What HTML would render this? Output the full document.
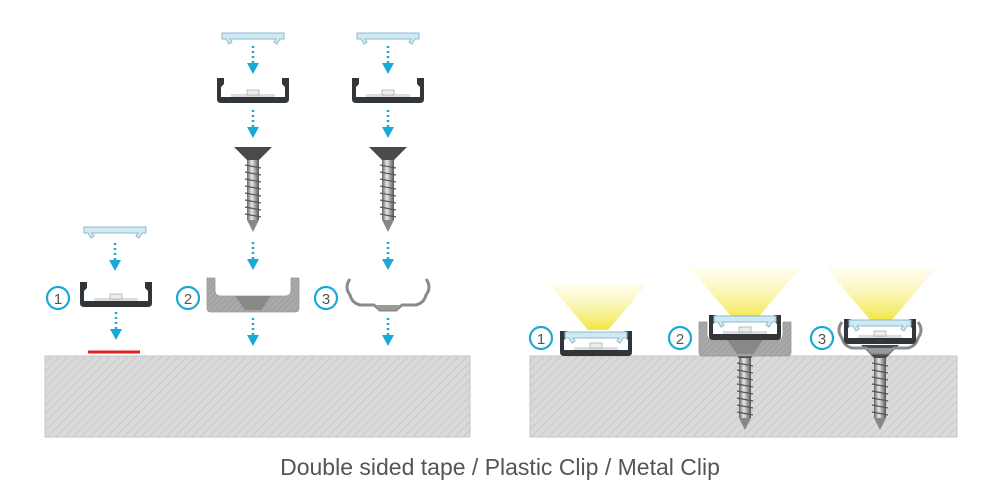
<!DOCTYPE html>
<html><head><meta charset="utf-8"><style>
html,body{margin:0;padding:0;background:#fff;width:1000px;height:500px;overflow:hidden}
svg{display:block}
</style></head><body>
<svg width="1000" height="500" viewBox="0 0 1000 500" xmlns="http://www.w3.org/2000/svg">
<defs>
<pattern id="hatch" width="6" height="6" patternUnits="userSpaceOnUse" patternTransform="rotate(45)">
<rect width="6" height="6" fill="#dadada"/><line x1="0" y1="0" x2="0" y2="6" stroke="#c9c9c9" stroke-width="2"/>
</pattern>
<pattern id="hatch2" width="4" height="4" patternUnits="userSpaceOnUse" patternTransform="rotate(45)">
<rect width="4" height="4" fill="#a9a9a9"/><line x1="0" y1="0" x2="0" y2="4" stroke="#9a9a9a" stroke-width="1.5"/>
</pattern>
<linearGradient id="beam" x1="0" y1="0" x2="0" y2="1">
<stop offset="0" stop-color="#fff9c8" stop-opacity="0.3"/><stop offset="1" stop-color="#f0e640"/>
</linearGradient>
<linearGradient id="shaft" x1="0" y1="0" x2="1" y2="0">
<stop offset="0" stop-color="#666"/><stop offset="0.4" stop-color="#e8e8e8"/><stop offset="1" stop-color="#555"/>
</linearGradient>
<g id="lens"><path d="M-31,0 h62 v6 h-4 l-3,5 l-3,-2 l2,-3 h-46 l2,3 l-3,2 l-3,-5 h-4z" fill="#cfe9f5" stroke="#8fb9cc" stroke-width="1"/></g>
<g id="prof"><path d="M-36,0 h7 v6 l-3,3 v10 h64 v-10 l-3,-3 v-6 h7 v21 q0,4 -4,4 h-64 q-4,0 -4,-4z" fill="#31363a"/>
<rect x="-22" y="16" width="44" height="3" fill="#ddd"/><rect x="-6" y="12" width="12" height="5" fill="#eee" stroke="#999" stroke-width="0.6"/></g>
<g id="screw"><path d="M-19,0 h38 l-13,13 h-12z" fill="#4a4a4a"/>
<rect x="-6" y="13" width="12" height="60" fill="url(#shaft)"/>
<path d="M-6,73 h12 l-6,12z" fill="#888"/>
<g stroke="#555" stroke-width="1.2"><line x1="-8" y1="18" x2="8" y2="21"/><line x1="-8" y1="25" x2="8" y2="28"/><line x1="-8" y1="32" x2="8" y2="35"/><line x1="-8" y1="39" x2="8" y2="42"/><line x1="-8" y1="46" x2="8" y2="49"/><line x1="-8" y1="53" x2="8" y2="56"/><line x1="-8" y1="60" x2="8" y2="63"/><line x1="-8" y1="67" x2="8" y2="70"/></g></g>
<g id="pclip"><path d="M-46,0 h8 v12 q0,6 6,6 h64 q6,0 6,-6 v-12 h8 v30 q0,4 -4,4 h-84 q-4,0 -4,-4z" fill="url(#hatch2)" stroke="#999" stroke-width="0.8"/>
<path d="M-18,18 h36 l-10,14 h-16z" fill="#888"/></g>
<g id="mclip"><path d="M-38,0 q-6,8 0,16 q2,8 10,10 h14 l6,5 h16 l6,-5 h14 q8,-2 10,-10 q6,-8 0,-16" fill="none" stroke="#8a8a8a" stroke-width="3"/>
<path d="M-14,26 h28 l-6,5 h-16z" fill="#999"/></g>
<g id="arr"><line x1="0" y1="0" x2="0" y2="18" stroke="#1aa9d6" stroke-width="2.5" stroke-dasharray="2 3"/><path d="M-6,17 h12 l-6,11z" fill="#1aa9d6"/></g>
</defs>

<rect x="45" y="356" width="425" height="81" fill="url(#hatch)" stroke="#c4c4c4"/>
<rect x="530" y="356" width="427" height="81" fill="url(#hatch)" stroke="#c4c4c4"/>

<use href="#lens" x="115" y="227"/>
<use href="#arr" x="115" y="243"/>
<use href="#prof" x="116" y="282"/>
<use href="#arr" x="116" y="312"/>
<line x1="88" y1="352" x2="140" y2="352" stroke="#e02020" stroke-width="3"/>
<g fill="none" stroke="#1aa9d6" stroke-width="2.2"><circle cx="58" cy="298" r="11"/><circle cx="188" cy="298" r="11"/><circle cx="326" cy="298" r="11"/>
<circle cx="541" cy="338" r="11"/><circle cx="680" cy="338" r="11"/><circle cx="822" cy="338" r="11"/></g>
<g font-family="Liberation Sans, sans-serif" font-size="15" fill="#555" text-anchor="middle">
<text x="58" y="304">1</text><text x="188" y="304">2</text><text x="326" y="304">3</text>
<text x="541" y="344">1</text><text x="680" y="344">2</text><text x="822" y="344">3</text></g>

<use href="#lens" x="253" y="33"/>
<use href="#arr" x="253" y="46"/>
<use href="#prof" x="253" y="78"/>
<use href="#arr" x="253" y="110"/>
<use href="#screw" x="253" y="147"/>
<use href="#arr" x="253" y="242"/>
<use href="#pclip" x="253" y="278"/>
<use href="#arr" x="253" y="318"/>

<use href="#lens" x="388" y="33"/>
<use href="#arr" x="388" y="46"/>
<use href="#prof" x="388" y="78"/>
<use href="#arr" x="388" y="110"/>
<use href="#screw" x="388" y="147"/>
<use href="#arr" x="388" y="242"/>
<use href="#mclip" x="388" y="279"/>
<use href="#arr" x="388" y="318"/>

<use href="#screw" x="745" y="345"/>
<use href="#screw" x="880" y="345"/>
<use href="#pclip" x="745" y="322"/>
<use href="#mclip" x="880" y="322"/>
<path d="M548,283 h100 l-40,47 h-20z" fill="url(#beam)"/>
<path d="M690,268 h110 l-45,53 h-20z" fill="url(#beam)"/>
<path d="M826,268 h110 l-45,53 h-20z" fill="url(#beam)"/>
<use href="#prof" x="596" y="331"/>
<use href="#lens" x="596" y="332"/>
<use href="#prof" x="745" y="315"/>
<use href="#lens" x="745" y="316"/>
<use href="#prof" x="880" y="319"/>
<use href="#lens" x="880" y="320"/>

<text x="500" y="475" text-anchor="middle" font-family="Liberation Sans, sans-serif" font-size="23" fill="#555">Double sided tape / Plastic Clip / Metal Clip</text>
</svg>
</body></html>
